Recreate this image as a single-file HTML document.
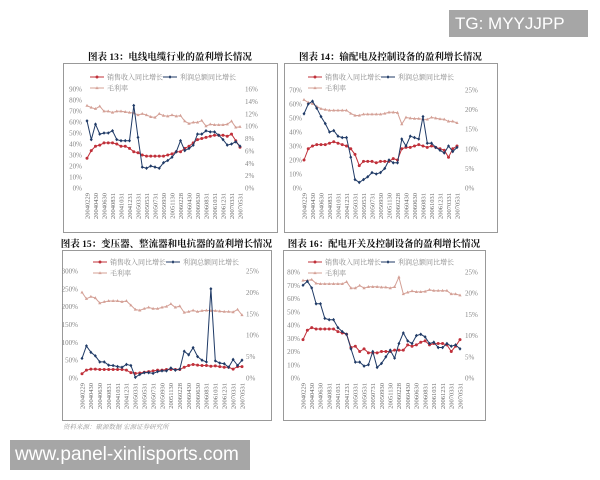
<!DOCTYPE html>
<html><head><meta charset="utf-8">
<style>
body{margin:0;background:#fff;width:600px;height:480px;overflow:hidden;position:relative;font-family:"Liberation Serif","Noto Serif CJK SC",serif;}
#tg{position:absolute;left:449px;top:10px;width:139px;height:27px;background:#a6a6a6;color:#fff;font:17px "Liberation Sans",sans-serif;line-height:27px;padding-left:6px;box-sizing:border-box;}
#wm{position:absolute;left:10px;top:440px;width:240px;height:30px;background:#a6a6a6;color:#fff;font:19px "Liberation Sans",sans-serif;line-height:30px;padding-left:5px;box-sizing:border-box;}
</style></head><body>
<svg id="svg" width="600" height="480" style="position:absolute;left:0;top:0"></svg>
<div id="tg">TG: MYYJJPP</div>
<div id="wm">www.panel-xinlisports.com</div>
<script>
const dates=["20040229","20040430","20040630","20040831","20041031","20041231","20050331","20050531","20050731","20050930","20051130","20060228","20060430","20060630","20060831","20061031","20061231","20070331","20070531"];
const titles=["图表 13：电线电缆行业的盈利增长情况","图表 14：输配电及控制设备的盈利增长情况","图表 15：变压器、整流器和电抗器的盈利增长情况","图表 16：配电开关及控制设备的盈利增长情况"];
const legendNames=["销售收入同比增长","利润总额同比增长","毛利率"];
const sales1=[27,34,38,39,41,41,41,40,38,38,36,33,32,30,29,29,29,29,29,30,31,33,33,36,38,41,44,45,46,47,48,48,48,47,49,43,37];
const profit1=[61,44,58,49,50,50,52,44,43,43,43,75,46,19,18,20,19,18,23,25,28,33,43,34,36,39,49,49,52,51,51,48,44,39,40,42,38];
const margin1=[13.3,13.0,12.8,13.2,12.4,12.4,12.2,12.4,12.4,12.3,12.2,12.1,11.8,12.0,11.8,11.5,11.4,12.0,11.7,11.6,11.8,11.6,11.7,10.8,10.4,10.6,10.6,10.9,10.0,10.3,10.2,10.2,10.2,10.3,10.8,9.8,9.9];
const sales2=[20,28,30,31,31,31,32,33,32,31,30,28,24,16,19,19,19,18,19,19,19,21,20,28,29,29,30,31,30,29,30,29,28,27,22,28,30];
const profit2=[53,60,62,57,51,46,40,41,37,36,36,22,6,4,6,8,11,10,11,14,20,18,18,35,30,37,36,35,51,32,32,29,27,25,30,26,29];
const margin2=[22.5,21.8,21.5,20.8,20.2,20,19.8,19.8,19.8,19.8,19.8,19,18.5,18.5,18.8,18.8,18.8,18.8,18.8,19,19.3,19.3,19.2,16.3,18,17.8,17.7,17.7,17.5,17.5,18,17.8,17.6,17.5,17,17,16.6];
const sales3=[12,22,25,25,24,24,24,24,24,24,22,15,13,14,16,18,20,22,22,24,24,24,24,30,35,38,36,35,35,33,34,32,30,30,25,32,32];
const profit3=[55,90,72,62,45,45,36,35,32,30,38,35,2,10,15,15,13,18,20,20,28,22,25,75,65,85,60,50,45,250,48,42,40,30,52,35,50];
const margin3=[20,18.5,19,18.7,17.5,17.8,18,18,18,17.8,18,17,16,15.8,16.2,16.5,16.2,16.2,16.5,16.7,17.3,16.5,16.8,15.3,15.5,15.8,15.5,15.7,15.8,15.7,15.7,15.6,15.5,15.5,15.4,16,14.7];
const sales4=[29,36,38,37,37,37,37,37,35,34,33,23,24,20,22,19,19,19,20,20,20,21,21,21,25,24,25,27,28,25,26,26,26,25,20,24,29];
const profit4=[70,73,68,56,56,45,44,44,38,35,33,22,12,12,9,10,20,8,11,16,21,15,26,34,28,26,32,33,31,26,27,23,23,26,24,25,22];
const margin4=[23,23,23.2,22.3,22.2,22.2,22.2,22.2,22.2,22.2,22.7,21.2,21.2,21.8,21.2,21.5,21.5,21.5,21.4,21.4,21.2,21.5,23.8,19.8,20.2,20.5,20.3,20.3,20.4,20.8,20.6,20.6,20.6,20.6,19.8,19.8,19.5];
const leftTicks1=[0,10,20,30,40,50,60,70,80,90], rightTicks1=[0,2,4,6,8,10,12,14,16];
const leftTicks2=[0,10,20,30,40,50,60,70], rightTicks2=[0,5,10,15,20,25];
const leftTicks3=[0,50,100,150,200,250,300], rightTicks3=[0,5,10,15,20,25];
const leftTicks4=[0,10,20,30,40,50,60,70,80], rightTicks4=[0,5,10,15,20,25];

const NS="http://www.w3.org/2000/svg";
const svg=document.getElementById('svg');
function mk(tag,attrs,parent){const e=document.createElementNS(NS,tag);for(const k in attrs)e.setAttribute(k,attrs[k]);(parent||svg).appendChild(e);return e;}
const C={sales:"#c0303a",profit:"#1f3a66",margin:"#d4a096"};
const cfg=[
 {fx:63,fy:63,fw:214,fh:169,x0:87,x1:240,yT:89,yB:188,lx:82,rx:245,lgx:90,lgy:77,L:leftTicks1,R:rightTicks1,s:sales1,p:profit1,m:margin1},
 {fx:284,fy:63,fw:213,fh:169,x0:304,x1:457,yT:90,yB:188,lx:302,rx:465,lgx:308,lgy:77,L:leftTicks2,R:rightTicks2,s:sales2,p:profit2,m:margin2},
 {fx:62,fy:250,fw:209,fh:170,x0:82,x1:242,yT:271,yB:378,lx:78,rx:246,lgx:93,lgy:262,L:leftTicks3,R:rightTicks3,s:sales3,p:profit3,m:margin3},
 {fx:283,fy:250,fw:202,fh:170,x0:303,x1:460,yT:272,yB:378,lx:300,rx:465,lgx:308,lgy:262,L:leftTicks4,R:rightTicks4,s:sales4,p:profit4,m:margin4}
];
function marker(g,type,x,y,col){
 let e;
 if(type==='sales')e=mk('circle',{cx:x,cy:y,r:1.5,fill:col},g);
 else if(type==='profit')e=mk('path',{d:`M${x} ${y-1.8}L${x+1.5} ${y}L${x} ${y+1.8}L${x-1.5} ${y}Z`,fill:col},g);
 else e=mk('path',{d:`M${x} ${y-1.8}L${x+1.6} ${y+1.1}L${x-1.6} ${y+1.1}Z`,fill:col},g);
 return e;
}
cfg.forEach((c,ci)=>{
 const g=mk('g',{});
 
 
 const fr=mk('rect',{x:c.fx+0.5,y:c.fy+0.5,width:c.fw,height:c.fh,fill:'none',stroke:'#999','stroke-width':1},g);
 
 
 const t=mk('text',{x:c.fx+c.fw/2,y:c.fy-3,'text-anchor':'middle','font-size':9.5,'font-weight':'bold',fill:'#111'},g);
 t.textContent=titles[ci];
 
 
 const Lmax=c.L[c.L.length-1],Rmax=c.R[c.R.length-1];
 const n=c.s.length;
 const X=i=>c.x0+(c.x1-c.x0)*i/(n-1);
 const YL=v=>c.yB-(c.yB-c.yT)*v/Lmax;
 const YR=v=>c.yB-(c.yB-c.yT)*v/Rmax;
 c.L.forEach(v=>{const e=mk('text',{x:c.lx,y:YL(v)+2.5,'text-anchor':'end','font-size':7,fill:'#888'},g);e.textContent=v+'%';
  
  });
 c.R.forEach(v=>{const e=mk('text',{x:c.rx,y:YR(v)+2.5,'font-size':7,fill:'#888'},g);e.textContent=v+'%';
  
  });
 dates.forEach((d,j)=>{const x=X(j*2)+2.3,y=c.yB+5;
  const e=mk('text',{x:x,y:y,'text-anchor':'end','font-size':6.5,fill:'#666',transform:`rotate(-90 ${x} ${y})`},g);e.textContent=d;
  
  });
 [['margin',c.m,YR],['sales',c.s,YL],['profit',c.p,YL]].forEach(([k,arr,Y])=>{
  const pts=arr.map((v,i)=>X(i).toFixed(1)+','+Y(v).toFixed(1)).join(' ');
  const pl=mk('polyline',{points:pts,fill:'none',stroke:C[k],'stroke-width':1},g);
  
  
  arr.forEach((v,i)=>{const e=marker(g,k,X(i),Y(v),C[k]);
   
   });
 });
 // legend
 const leg=[['sales',c.lgx,c.lgy,0],['profit',c.lgx+73,c.lgy,1],['margin',c.lgx,c.lgy+11,2]];
 leg.forEach(([k,x,y,li])=>{
  const lg=mk('g',{},g);
  
  
  mk('line',{x1:x,y1:y,x2:x+14,y2:y,stroke:C[k],'stroke-width':1},lg);
  marker(lg,k,x+7,y,C[k]);
  const tx=mk('text',{x:x+17,y:y+2.5,'font-size':7,fill:'#888'},lg);tx.textContent=legendNames[li];
 });
});
const src=mk('text',{x:63,y:429,'font-size':6.5,fill:'#999','font-style':'italic'});
src.textContent="资料来源：聚源数据 宏源证券研究所";


</script>
</body></html>
